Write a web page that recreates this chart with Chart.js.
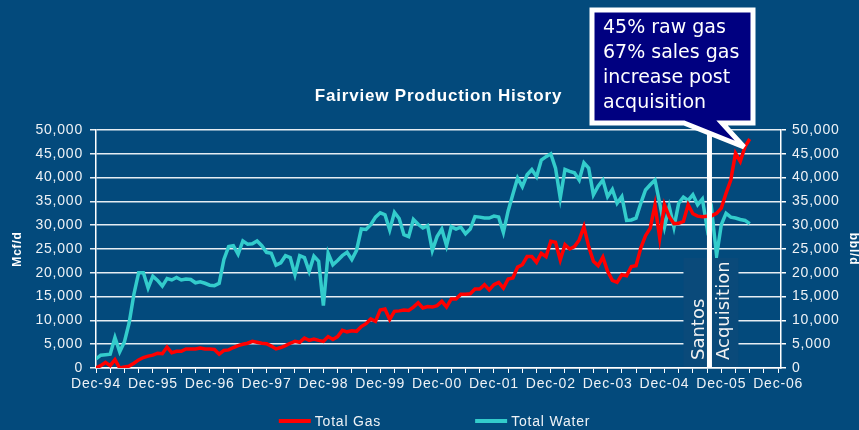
<!DOCTYPE html>
<html><head><meta charset="utf-8">
<script src="https://cdn.jsdelivr.net/npm/chart.js@4"></script>
<style>html,body{margin:0;padding:0;background:#034a7c;overflow:hidden}#wrap{width:859px;height:430px}canvas{display:block}</style>
</head><body><div id="wrap"><canvas id="c" width="859" height="430"></canvas></div>
<script>
// ---- data (monthly, starting Dec-94) ----
const tickLabels = ['Dec-94','Dec-95','Dec-96','Dec-97','Dec-98','Dec-99','Dec-00','Dec-01','Dec-02','Dec-03','Dec-04','Dec-05','Dec-06'];
const seriesNames = ['Total Gas','Total Water'];
const totalGas = [
  0,500,1200,500,1750,0,200,400,1000,1700,2200,2500,
  2700,3100,3000,4400,3200,3500,3500,4000,4000,4000,4200,4000,
  4000,3900,2900,3700,3800,4300,4700,5000,5200,5600,5400,5200,
  5100,4600,4000,4300,4700,5200,5600,5400,6300,5800,6100,5800,
  5600,6600,6000,6600,7900,7600,7800,7700,8700,9300,10300,9800,
  12200,12400,10200,11900,12000,12200,12100,12800,13700,12600,12900,12800,
  13100,14000,12800,14500,14500,15500,15500,15600,16600,16600,17500,16400,
  17500,18000,16800,18700,18900,21200,21700,23400,23400,22200,24100,23400,
  26600,26400,22700,25900,25000,25500,26900,29700,25500,22400,21500,23300,
  20300,18400,18000,19600,19400,21300,21500,25200,27800,29400,34300,27300,
  34300,31800,30300,30400,30800,34300,32400,31900,31800,31900,32000,32500,
  33600,36700,39500,45100,43400,46500,48100
];
const totalWater = [
  1900,2700,2800,2900,6400,3400,5500,9500,15500,20000,20000,16800,
  19300,18400,17200,18800,18500,19000,18500,18700,18600,17900,18100,17800,
  17400,17300,17800,22800,25500,25700,23900,26700,26000,26100,26700,25700,
  24300,24100,21600,22100,23600,23200,19600,23600,23200,20300,23500,22400,
  13100,24100,21700,22600,23600,24300,22800,24700,29200,29100,30100,31700,
  32600,32200,29000,32700,31400,28000,27600,31200,30200,29400,29900,24700,
  27600,29200,25700,29700,29200,29600,28200,29200,31800,31700,31500,31500,
  31900,31700,28500,33000,36500,39900,38100,40600,41700,40200,43700,44400,
  45000,42000,35700,41700,41300,41000,39500,43100,42000,36400,38200,39500,
  36000,37500,34600,36000,31000,31100,31500,34600,37400,38500,39500,34600,
  29600,33900,29600,34600,35900,35200,36400,34300,35500,29400,32900,23600,
  30100,32500,31700,31500,31200,31000,30300
];
const yTicksMax = 50000;
const yTicksStep = 5000;
const monthsPerTick = 3;
const chartTitle = 'Fairview Production History';
const leftAxisTitle = 'Mcf/d';
const rightAxisTitle = 'bbl/d';
const calloutLines = ['45% raw gas','67% sales gas','increase post','acquisition'];
const acquisitionLabel = ['Santos','Acquisition'];
const acquisitionMonth = 129.5;

// ---- styles ----
const BG = '#034a7c';
const TXT = '#eef2f6';
const FONT = "'Liberation Sans', Arial, sans-serif";
const colors = ['#ff0000', '#33cccc'];

const toXY = arr => arr.map((v, i) => ({x: i, y: v}));

const decoPlugin = {
  id: 'deco',
  beforeUpdate(chart) { chart.ctx.letterSpacing = '0.8px'; },
  beforeDraw(chart) {
    const ctx = chart.ctx;
    ctx.save();
    ctx.fillStyle = BG;
    ctx.fillRect(0, 0, chart.width, chart.height);
    ctx.restore();
    ctx.letterSpacing = '0.8px';
  },
  afterDraw(chart) {
    const ctx = chart.ctx;
    const xs = chart.scales.x;
    const area = chart.chartArea;
    const lx = xs.getPixelForValue(acquisitionMonth);
    ctx.save();
    // label background box
    ctx.fillStyle = '#0a4a7a';
    ctx.fillRect(lx - 26, 258, 55, area.bottom - 258 - 1);
    // vertical acquisition line
    ctx.strokeStyle = '#ffffff';
    ctx.lineWidth = 5;
    ctx.beginPath();
    ctx.moveTo(lx, 122);
    ctx.lineTo(lx, area.bottom);
    ctx.stroke();
    // rotated labels
    ctx.letterSpacing = '0px';
    ctx.fillStyle = '#f2f2f2';
    ctx.font = "18px 'DejaVu Sans', Verdana, sans-serif";
    ctx.textAlign = 'left';
    ctx.textBaseline = 'alphabetic';
    [[acquisitionLabel[0], lx - 5], [acquisitionLabel[1], lx + 20]].forEach(([t, bx]) => {
      ctx.save();
      ctx.translate(bx, 360);
      ctx.rotate(-Math.PI / 2);
      ctx.fillText(t, 0, 0);
      ctx.restore();
    });
    // callout
    ctx.beginPath();
    ctx.moveTo(592, 10);
    ctx.lineTo(753, 10);
    ctx.lineTo(753, 123);
    ctx.lineTo(722, 123);
    ctx.lineTo(744, 147);
    ctx.lineTo(684, 123);
    ctx.lineTo(592, 123);
    ctx.closePath();
    ctx.fillStyle = '#000080';
    ctx.fill();
    ctx.strokeStyle = '#ffffff';
    ctx.lineWidth = 5;
    ctx.lineJoin = 'miter';
    ctx.miterLimit = 4;
    ctx.stroke();
    ctx.fillStyle = '#ffffff';
    ctx.font = "19px 'DejaVu Sans', Verdana, sans-serif";
    calloutLines.forEach((t, i) => ctx.fillText(t, 603, 33 + i * 25));
    // legend
    ctx.letterSpacing = '0.8px';
    ctx.font = '14px ' + FONT;
    ctx.textBaseline = 'middle';
    const items = chart.data.datasets.map(ds => ({label: ds.label, color: ds.borderColor, w: ctx.measureText(ds.label).width}));
    const boxW = 32, gapT = 4, gapI = 94;
    const total = items.reduce((s, it) => s + boxW + gapT + it.w, 0) + gapI * (items.length - 1);
    let sx = (chart.width - total) / 2 + 5;
    const ly = 421;
    items.forEach(it => {
      ctx.strokeStyle = it.color;
      ctx.lineWidth = 4;
      ctx.beginPath();
      ctx.moveTo(sx, ly);
      ctx.lineTo(sx + boxW, ly);
      ctx.stroke();
      ctx.fillStyle = TXT;
      ctx.fillText(it.label, sx + boxW + gapT, ly + 1);
      sx += boxW + gapT + it.w + gapI;
    });
    ctx.restore();
  }
};

const tickFont = {family: FONT, size: 14};
const fmt = v => Number(v).toLocaleString('en-US');

new Chart(document.getElementById('c'), {
  type: 'line',
  data: {
    datasets: [
      {label: seriesNames[0], data: toXY(totalGas), borderColor: colors[0], backgroundColor: colors[0], borderWidth: 3.5, pointRadius: 0, tension: 0, yAxisID: 'y'},
      {label: seriesNames[1], data: toXY(totalWater), borderColor: colors[1], backgroundColor: colors[1], borderWidth: 3.5, pointRadius: 0, tension: 0, yAxisID: 'y2'}
    ]
  },
  options: {
    responsive: false,
    devicePixelRatio: 1,
    animation: false,
    layout: {padding: 0},
    plugins: {
      legend: {display: false},
      tooltip: {enabled: false},
      title: {display: true, text: chartTitle, color: '#ffffff', fullSize: false,
              font: {family: FONT, size: 17, weight: 'bold'}, padding: {top: 86, bottom: 23.6}}
    },
    scales: {
      x: {
        type: 'linear', min: 0, max: 144.6, position: 'bottom',
        afterBuildTicks: s => {
          const t = [];
          for (let k = 0; k <= (tickLabels.length - 1) * 12 / monthsPerTick; k++) t.push({value: k * monthsPerTick});
          s.ticks = t;
        },
        ticks: {autoSkip: false, maxRotation: 0, color: TXT, font: tickFont, padding: 3,
                callback: v => (v % 12 === 0 ? tickLabels[v / 12] : '')},
        grid: {drawOnChartArea: false, color: '#ffffff', tickLength: 5, lineWidth: 1},
        border: {color: '#ffffff', width: 1.5},
        afterFit: s => { s.height = 62; }
      },
      y: {
        position: 'left', min: 0, max: yTicksMax,
        ticks: {stepSize: yTicksStep, color: TXT, font: tickFont, padding: 7, callback: fmt},
        grid: {color: '#e6edf3', lineWidth: 1.5, tickLength: 6},
        border: {color: '#ffffff', width: 1.5},
        title: {display: true, text: leftAxisTitle, color: '#ffffff', font: {family: FONT, size: 12, weight: 'bold'}, padding: {top: 10, bottom: 0}},
        afterFit: s => { s.width = 96; }
      },
      y2: {
        position: 'right', min: 0, max: yTicksMax,
        ticks: {stepSize: yTicksStep, color: TXT, font: tickFont, padding: 6, callback: fmt},
        grid: {drawOnChartArea: false, color: '#ffffff', lineWidth: 1.5, tickLength: 5},
        border: {color: '#ffffff', width: 1.5},
        title: {display: true, text: rightAxisTitle, color: '#ffffff', font: {family: FONT, size: 12, weight: 'bold', lineHeight: 1}, padding: {top: 0, bottom: 0}},
        afterFit: s => { s.width = 78; }
      }
    }
  },
  plugins: [decoPlugin]
});
</script>
</body></html>
